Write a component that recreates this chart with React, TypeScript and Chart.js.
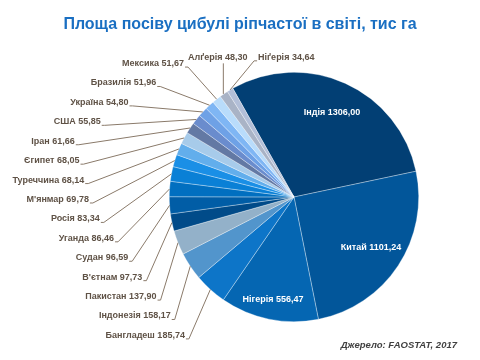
import React, { useEffect, useRef } from "react";
import { Chart, PieController, ArcElement } from "chart.js";

Chart.register(PieController, ArcElement);

const chartTitle = "Площа посіву цибулі ріпчастої в світі, тис га";
const sourceNote = "Джерело: FAOSTAT, 2017";

const countries = [
  "Індія", "Китай", "Нігерія", "Бангладеш", "Індонезія", "Пакистан", "В'єтнам",
  "Судан", "Уганда", "Росія", "М'янмар", "Туреччина", "Єгипет", "Іран", "США",
  "Україна", "Бразилія", "Мексика", "Алгерія", "Нігерія",
];
const areas = [
  1306.0, 1101.24, 556.47, 185.74, 158.17, 137.9, 97.73, 96.59, 86.46, 83.34,
  69.78, 68.14, 68.05, 61.66, 55.85, 54.8, 51.96, 51.67, 48.3, 34.64,
];
const valueLabels = [
  "1306,00", "1101,24", "556,47", "185,74", "158,17", "137,90", "97,73", "96,59",
  "86,46", "83,34", "69,78", "68,14", "68,05", "61,66", "55,85", "54,80", "51,96",
  "51,67", "48,30", "34,64",
];
const displayNames = [
  "Індія", "Китай", "Нігерія", "Бангладеш", "Індонезія", "Пакистан", "В'єтнам",
  "Судан", "Уганда", "Росія", "М'янмар", "Туреччина", "Єгипет", "Іран", "США",
  "Україна", "Бразилія", "Мексика", "Алґерія", "Ніґерія",
];
const sliceColors = [
  "#023f74", "#02569a", "#0566b2", "#0d75c8", "#5295cc", "#93b1c9", "#014b89",
  "#015da6", "#016fc0", "#0a80d6", "#1a8fe6", "#62aeec", "#a7cbea", "#6379a4",
  "#6a8ccd", "#6ea1e6", "#7fb6f4", "#b9dcfb", "#a9b3c6", "#b3bfd8",
];

const FONT = "'Liberation Sans', Arial, sans-serif";

// label ring shape (horizontal reach of left labels, in units of radius)
function reachFor(dyn: number): number {
  if (dyn > 0.04) return 1.656 - 0.73 * (dyn - 0.04);
  if (dyn < -0.456) return 1.76 - 1.43 * (-0.456 - dyn);
  const t = (dyn + 0.456) / 0.496;
  return 1.76 + (1.64 - 1.76) * t;
}

const labelPlugin = {
  id: "pieLabels",
  afterDraw(chart: any) {
    const ctx = chart.ctx as CanvasRenderingContext2D;
    const meta = chart.getDatasetMeta(0);
    const arcs = meta.data as any[];
    if (!arcs.length) return;
    const first = arcs[0].getProps(["x", "y", "outerRadius"], true);
    const cx = first.x;
    const cy = first.y;
    const r = first.outerRadius;
    const W = chart.width;
    const H = chart.height;

    ctx.save();
    // title
    ctx.font = `bold 16px ${FONT}`;
    ctx.fillStyle = "#1a6fc2";
    ctx.textAlign = "center";
    ctx.textBaseline = "middle";
    ctx.fillText(chartTitle, W / 2, 25);

    // source
    ctx.font = `italic bold 9.5px ${FONT}`;
    ctx.fillStyle = "#404040";
    ctx.textAlign = "right";
    ctx.fillText(sourceNote, W - 23, H - 15);

    const n = arcs.length;
    const leftStart = 3;
    const leftEnd = n - 3; // inclusive index of top-most left label
    const leftCount = leftEnd - leftStart + 1;
    const yBottom = cy + 1.11 * r;
    const yTop = cy - 1.07 * r;
    const step = (yBottom - yTop) / (leftCount - 1);

    arcs.forEach((arc: any, i: number) => {
      const p = arc.getProps(["startAngle", "endAngle", "outerRadius"], true);
      const mid = (p.startAngle + p.endAngle) / 2;
      const text = `${displayNames[i]} ${valueLabels[i]}`;
      if (i < leftStart) {
        ctx.font = `bold 9px ${FONT}`;
        ctx.fillStyle = "#ffffff";
        ctx.textAlign = "center";
        ctx.textBaseline = "middle";
        const f = i === 2 ? 0.84 : 0.74;
        ctx.fillText(text, cx + Math.cos(mid) * r * f, cy + Math.sin(mid) * r * f);
        return;
      }
      const ex = cx + Math.cos(mid) * p.outerRadius;
      const ey = cy + Math.sin(mid) * p.outerRadius;
      ctx.font = `bold 9px ${FONT}`;
      ctx.fillStyle = "#5f5246";
      ctx.strokeStyle = "#8a7a6a";
      ctx.lineWidth = 1;
      ctx.textBaseline = "middle";
      if (i <= leftEnd) {
        const y = yBottom - (i - leftStart) * step;
        const xEnd = cx - reachFor((y - cy) / r) * r;
        ctx.textAlign = "right";
        ctx.fillText(text, xEnd, y);
        ctx.beginPath();
        ctx.moveTo(xEnd + 1, y + 3.5);
        ctx.lineTo(xEnd + 4, y + 3.5);
        ctx.lineTo(ex, ey);
        ctx.stroke();
      } else if (i === n - 2) {
        const y = cy - 1.12 * r;
        ctx.textAlign = "center";
        ctx.fillText(text, ex - 6, y);
        ctx.beginPath();
        ctx.moveTo(ex - 0.5, y + 6);
        ctx.lineTo(ex - 0.5, ey);
        ctx.stroke();
      } else {
        const y = cy - 1.12 * r;
        const x = ex + 28;
        ctx.textAlign = "left";
        ctx.fillText(text, x, y);
        ctx.beginPath();
        ctx.moveTo(x - 1, y + 3.5);
        ctx.lineTo(x - 4, y + 3.5);
        ctx.lineTo(ex, ey);
        ctx.stroke();
      }
    });
    ctx.restore();
  },
};

export default function App() {
  const ref = useRef<HTMLCanvasElement | null>(null);
  useEffect(() => {
    if (!ref.current) return;
    const chart = new Chart(ref.current, {
      type: "pie",
      data: {
        labels: countries,
        datasets: [
          {
            data: areas,
            backgroundColor: sliceColors,
            borderColor: "rgba(255,255,255,0.55)",
            borderWidth: 0.6,
          },
        ],
      },
      options: {
        responsive: false,
        animation: false,
        devicePixelRatio: 1,
        rotation: -29.4,
        layout: { padding: { left: 169, right: 61, top: 72, bottom: 38 } },
        plugins: {
          legend: { display: false },
          tooltip: { enabled: false },
          title: { display: false },
        },
      },
      plugins: [labelPlugin],
    });
    return () => chart.destroy();
  }, []);
  return (
    <div style={{ position: "fixed", left: 0, top: 0, width: 480, height: 360, background: "#ffffff" }}>
      <canvas ref={ref} width={480} height={360} style={{ width: 480, height: 360, display: "block" }} />
    </div>
  );
}
